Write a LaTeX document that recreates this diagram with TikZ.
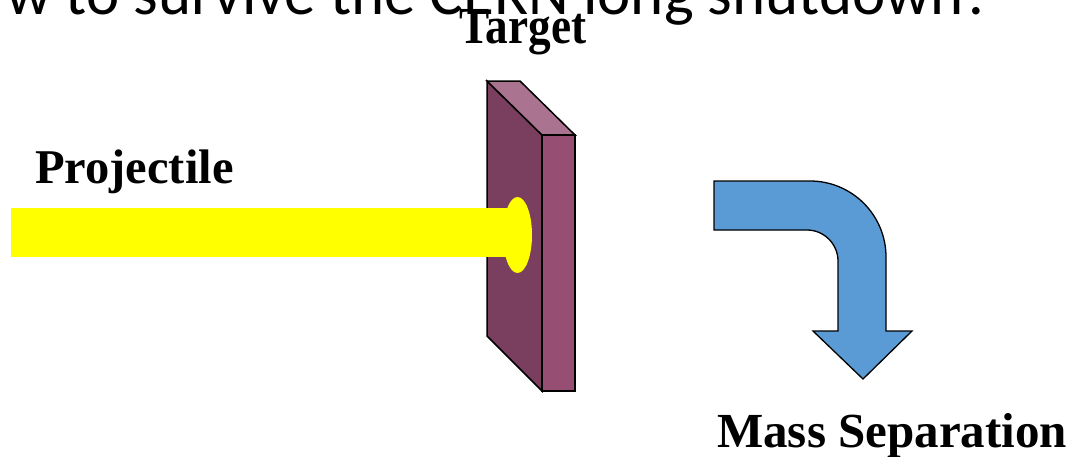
\documentclass[tikz,border=0pt]{standalone}
\usepackage{fontspec}
\setmainfont{Liberation Serif}
\newfontfamily\titlefont{Carlito}
\definecolor{slabdark}{RGB}{122,63,94}
\definecolor{slabtop}{RGB}{170,116,144}
\definecolor{slabfront}{RGB}{150,79,115}
\definecolor{arrowblue}{RGB}{91,155,213}
\definecolor{beamyellow}{RGB}{255,255,0}
\tikzset{
  label/.style={inner sep=0pt, font=\bfseries\fontsize{48.5}{48.5}\selectfont},
  slab/.style={draw=black, line width=1.5pt, line join=miter},
  beam/.style={fill=beamyellow, draw=none},
  bentarrow/.style={fill=arrowblue, draw=black, line width=1.3pt, line join=miter}
}
\begin{document}
\begin{tikzpicture}[x=1pt,y=-1pt]
\useasboundingbox (0,0) rectangle (1071,456);
\clip (0,0) rectangle (1071,456);
% title, partly cut off
\node[anchor=base west, inner sep=0pt, font=\titlefont\fontsize{63}{63}\selectfont] (title) at (6,14) {w to survive the CERN long shutdown?};
% target slab
\path[slab, fill=slabdark] (487,81) -- (542,135) -- (542,391) -- (487,336) -- cycle;
\path[slab, fill=slabtop] (487,81) -- (520,81) -- (575,135) -- (542,135) -- cycle;
\path[slab, fill=slabfront] (542,135) -- (575,135) -- (575,391) -- (542,391) -- cycle;
% projectile beam
\path[beam] (11,208) rectangle (512,257);
\path[beam] (517.5,235) ellipse [x radius=14.5, y radius=38];
% bent arrow
\path[bentarrow] (714,181) -- (810,181)
  .. controls (852,181) and (886,215) .. (886,257)
  -- (886,331) -- (912,331) -- (863,379) -- (813,331) -- (838,331)
  -- (838,261) .. controls (838,244) and (824,230) .. (807,230)
  -- (714,230) -- cycle;
% labels
\node[label, anchor=base west] (projectile) at (35,183) {Projectile};
\node[label, anchor=base, font=\bfseries\fontsize{52}{52}\selectfont, xscale=0.87] (target) at (523,43) {Target};
\node[label, anchor=base west, font=\bfseries\fontsize{49}{49}\selectfont] (mass) at (717,447) {Mass Separation};
\end{tikzpicture}
\end{document}
